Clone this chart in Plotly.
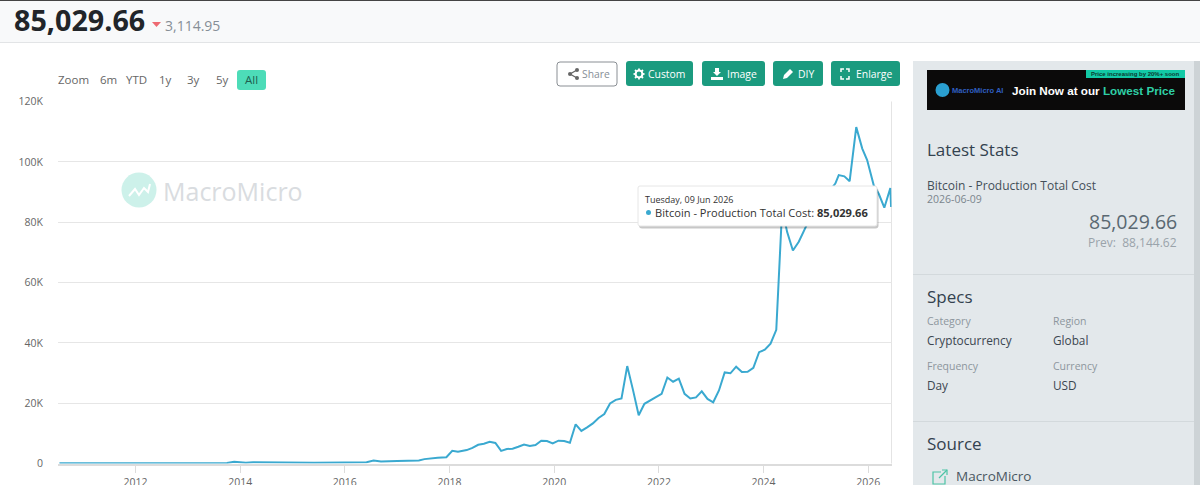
import plotly.graph_objects as go

W, H = 1200, 485

dates = [
    "2010-07-20", "2011-06-01", "2012-06-01", "2013-06-01", "2013-10-01", "2013-11-20", "2014-01-01", "2014-02-10",
    "2014-04-01", "2014-07-01", "2014-08-20", "2014-10-10", "2015-06-01", "2016-01-01", "2016-06-01", "2016-07-20",
    "2016-09-10", "2017-01-01", "2017-03-10", "2017-06-01", "2017-07-10", "2017-08-20", "2017-10-10", "2017-12-10",
    "2018-01-20", "2018-03-01",
    "2018-03-22", "2018-05-01", "2018-06-10", "2018-07-20", "2018-08-29", "2018-10-08", "2018-11-17", "2018-12-27",
    "2019-02-05", "2019-03-17", "2019-04-26", "2019-06-05", "2019-07-15", "2019-08-24", "2019-10-03", "2019-11-12",
    "2019-12-22", "2020-01-31", "2020-03-11", "2020-04-20", "2020-05-30", "2020-07-09", "2020-08-18", "2020-09-27",
    "2020-11-06", "2020-12-16", "2021-01-25", "2021-03-06", "2021-04-15", "2021-05-25", "2021-07-04", "2021-08-13",
    "2021-09-22", "2021-11-01", "2021-12-11", "2022-01-20", "2022-03-01", "2022-04-10", "2022-05-20", "2022-06-29",
    "2022-08-08", "2022-09-17", "2022-10-27", "2022-12-06", "2023-01-15", "2023-02-24", "2023-04-05", "2023-05-15",
    "2023-06-24", "2023-08-03", "2023-09-12", "2023-10-22", "2023-12-01", "2024-01-10", "2024-02-19", "2024-03-30",
    "2024-05-10", "2024-06-14", "2024-07-24", "2024-09-03", "2024-10-08", "2024-11-01", "2024-12-20", "2025-02-24",
    "2025-05-16", "2025-06-09", "2025-07-18", "2025-08-24", "2025-10-09", "2025-11-20", "2025-12-24", "2026-02-08",
    "2026-03-15", "2026-04-23", "2026-06-04", "2026-06-09",
]
cost = [
    50, 60, 70, 90, 150, 550, 400, 250,
    450, 400, 550, 300, 250, 350, 450, 1000,
    650, 800, 1000, 1000, 1450, 1550, 1900, 2100,
    4200, 3900,
    4100, 4450, 5200, 6200, 6550, 7200, 6800, 4200,
    4800, 4900, 5550, 6300, 5800, 6100, 7550, 7450,
    6650, 7550, 7450, 6900, 13000, 10800, 12000, 13300,
    15100, 16400, 19900, 21100, 21550, 32300, 24400, 16000,
    19800, 20800, 22000, 23100, 28500, 27100, 28100, 23100,
    21550, 21900, 23900, 21400, 20300, 24200, 30200, 29900,
    32100, 30300, 30400, 31700, 36900, 37700, 39700, 44300,
    84400, 76700, 70600, 73500, 76700, 79400, 85500, 88000,
    92800, 95600, 95200, 93600, 111500, 104400, 100600, 92200,
    89400, 84800, 91300, 85029.66,
]
y_ticks = [0, 20000, 40000, 60000, 80000, 100000, 120000]
y_labels = ["0", "20K", "40K", "60K", "80K", "100K", "120K"]
range_buttons = ["Zoom", "6m", "YTD", "1y", "3y", "5y", "All"]
range_button_x = [73, 108, 136, 165, 193, 222, 251]

GREEN = "#1b9b7f"
FONT = "Open Sans"


def px(x):
    return x / W


def py(y):
    return 1 - y / H


def rect(x0, y0, x1, y1, fill, line=None, layer="above"):
    return dict(type="rect", xref="paper", yref="paper", x0=px(x0), x1=px(x1), y0=py(y0), y1=py(y1),
                fillcolor=fill, line=dict(color=line or fill, width=1 if line else 0), layer=layer)


def rrect(x0, y0, x1, y1, fill, line=None, r=3, layer="above"):
    # rounded corners for the buttons
    def p(x, y):
        return f"{px(x):.5f},{py(y):.5f}"
    d = (f"M {p(x0 + r, y0)} L {p(x1 - r, y0)} Q {p(x1, y0)} {p(x1, y0 + r)} L {p(x1, y1 - r)} Q {p(x1, y1)} {p(x1 - r, y1)} "
         f"L {p(x0 + r, y1)} Q {p(x0, y1)} {p(x0, y1 - r)} L {p(x0, y0 + r)} Q {p(x0, y0)} {p(x0 + r, y0)} Z")
    return dict(type="path", xref="paper", yref="paper", path=d, fillcolor=fill,
                line=dict(color=line or fill, width=1 if line else 0), layer=layer)


def path(points, fill=None, line=None, width=1, close=False, layer="above"):
    # page pixels to paper coordinates, plotly wants them in the svg path
    d = "M " + " L ".join(f"{px(x):.5f},{py(y):.5f}" for x, y in points) + (" Z" if close else "")
    return dict(type="path", xref="paper", yref="paper", path=d, fillcolor=fill or "rgba(0,0,0,0)",
                line=dict(color=line or "rgba(0,0,0,0)", width=width), layer=layer)


def circle(cx, cy, r, fill=None, line=None, width=1, layer="above"):
    return dict(type="circle", xref="paper", yref="paper", x0=px(cx - r), x1=px(cx + r), y0=py(cy + r), y1=py(cy - r),
                fillcolor=fill or "rgba(0,0,0,0)", line=dict(color=line or "rgba(0,0,0,0)", width=width), layer=layer)


def text(x, y, s, size=12, color="#444", anchor="left", family=FONT):
    return dict(xref="paper", yref="paper", x=px(x), y=py(y), text=s, showarrow=False, xanchor=anchor, yanchor="middle",
                font=dict(size=size, color=color, family=family), borderpad=0, borderwidth=0)


fig = go.Figure()
fig.add_trace(go.Scatter(x=dates, y=cost, mode="lines", line=dict(color="#3aa9d0", width=2), hoverinfo="skip"))

shapes = []
notes = []

# page chrome
shapes.append(rect(0, 0, W, 42, "#f8f9fa", layer="below"))
shapes.append(rect(0, 42, W, 43, "#e2e4e6", layer="below"))
shapes.append(rect(0, 0, W, 1, "#444444", layer="below"))
shapes.append(rect(913, 61, 1194, H, "#e3e8eb", layer="below"))
shapes.append(rect(1194, 61, W, H, "#cdd3d6", layer="below"))
shapes.append(rect(913, 274, 1194, 275, "#d3d9dc", layer="below"))
shapes.append(rect(913, 421, 1194, 422, "#d3d9dc", layer="below"))
shapes.append(rect(891, 101.5, 892, 463.5, "#e4e4e4", layer="below"))

# header
notes.append(text(14, 20, "<b>85,029.66</b>", 28.7, "#212529"))
shapes.append(path([(152, 22), (161, 22), (156.5, 27)], fill="#ee6a72", close=True))
notes.append(text(165, 25, "3,114.95", 14, "#868e96"))

# range selector
shapes.append(rrect(237, 70, 266, 90, "#4ddcb8", layer="below"))
for label, x in zip(range_buttons, range_button_x):
    notes.append(text(x, 80, label, 11.5, "#1f5f50" if label == "All" else "#666", "center"))

# toolbar buttons
shapes.append(rrect(557, 62, 617, 86, "#ffffff", line="#8a8f94"))
notes.append(text(582, 74, "Share", 10.3, "#868e96"))
for x0, x1, label, tx in [(626, 693, "Custom", 648), (702, 765, "Image", 727), (773, 823, "DIY", 798), (831, 900, "Enlarge", 856)]:
    shapes.append(rrect(x0, 61, x1, 86, GREEN))
    notes.append(text(tx, 74, label, 10.4, "#ffffff"))

# button icons
shapes.append(path([(577, 70), (570, 74), (577, 78)], line="#666", width=1.3))
shapes.append(circle(577, 70, 2, fill="#666"))
shapes.append(circle(570, 74, 2, fill="#666"))
shapes.append(circle(577, 78, 2, fill="#666"))
for ax, ay, bx, by in [(639, 68.5, 639, 79.5), (633.5, 74, 644.5, 74), (635, 70, 643, 78), (643, 70, 635, 78)]:
    shapes.append(path([(ax, ay), (bx, by)], line="#fff", width=1.8))
shapes.append(circle(639, 74, 3.4, fill=GREEN, line="#fff", width=2))
shapes.append(path([(715, 68), (719, 68), (719, 72), (721, 72), (717, 76), (713, 72), (715, 72)], fill="#fff", close=True))
shapes.append(rect(711, 77, 723, 80, "#fff"))
shapes.append(path([(783, 79), (784, 75), (790, 69), (793, 72), (787, 78)], fill="#fff", close=True))
for xa, xb, ya, yb in [(841, 844, 69, 72), (849, 846, 69, 72), (841, 844, 79, 76), (849, 846, 79, 76)]:
    shapes.append(path([(xb, ya), (xa, ya), (xa, yb)], line="#fff", width=1.5))

# watermark
shapes.append(circle(139, 190, 17.5, fill="#cdf1ea", layer="below"))
shapes.append(path([(129, 196), (135, 189), (139, 195), (144, 188), (148, 192), (150, 184)], line="#ffffff", width=2, layer="below"))
notes.append(text(163, 191, "MacroMicro", 25, "#d9dce0"))

# tooltip
shapes.append(rrect(639, 188, 878.5, 228.5, "rgba(0,0,0,0.22)"))
shapes.append(rrect(638, 186, 877, 226, "#ffffff", line="#e6e6e6", r=2))
shapes.append(circle(648.5, 212.5, 2.5, fill="#3aa9d0"))
notes.append(text(645, 199, "Tuesday, 09 Jun 2026", 9, "#333"))
notes.append(text(655, 212, "Bitcoin - Production Total Cost: <b>85,029.66</b>", 11.1, "#333"))

# banner
shapes.append(rect(927, 70, 1185, 110, "#0b0a0a"))
shapes.append(rect(1086, 70, 1185, 78, "#12c9a6"))
shapes.append(circle(942.5, 90, 7, fill="#2a9fd0"))
notes.append(text(1135, 74, "<b>Price increasing by 20%+ soon</b>", 6, "#0b3a32", "center", "Liberation Sans"))
notes.append(text(952, 90, "<b>MacroMicro AI</b>", 7.5, "#2f5fc0", family="Liberation Sans"))
notes.append(text(1012, 90, "<b>Join Now at our </b><b style='color:#2fcfa6'>Lowest Price</b>", 11.7, "#ffffff", family="Liberation Sans"))

# side panel
head = "#33424f"
notes.append(text(927, 149, "Latest Stats", 17, head))
notes.append(text(927, 185, "Bitcoin - Production Total Cost", 12, "#444f59"))
notes.append(text(927, 199, "2026-06-09", 10.5, "#7b858d"))
notes.append(text(1177, 222, "85,029.66", 19.5, "#5a6872", "right"))
notes.append(text(1177, 242, "Prev:  88,144.62", 12, "#9aa3aa", "right"))
notes.append(text(927, 296, "Specs", 17, head))
for x, top, val, y in [(927, "Category", "Cryptocurrency", 321), (1053, "Region", "Global", 321),
                       (927, "Frequency", "Day", 366), (1053, "Currency", "USD", 366)]:
    notes.append(text(x, y, top, 10.5, "#8d969d"))
    notes.append(text(x, y + 18.5, val, 11.8, "#3b4650"))
notes.append(text(927, 443, "Source", 17, head))
notes.append(text(956, 476, "MacroMicro", 13.5, "#4a5761"))
shapes.append(path([(941, 472), (933, 472), (933, 484), (945, 484), (945, 476)], line="#4cc3a6", width=1.2))
shapes.append(path([(939, 478), (947, 470)], line="#4cc3a6", width=1.2))
shapes.append(path([(942, 470), (947, 470), (947, 475)], line="#4cc3a6", width=1.2))

fig.update_layout(
    width=W, height=H, margin=dict(l=0, r=0, t=0, b=0, autoexpand=False), autosize=False,
    paper_bgcolor="#ffffff", plot_bgcolor="#ffffff", showlegend=False,
    font=dict(family=FONT, size=11, color="#666"),
    shapes=shapes, annotations=notes,
)
fig.update_xaxes(
    domain=[px(58), px(891.5)], range=["2010-07-10", "2026-06-12"], type="date",
    tick0="2012-01-01", dtick="M24", tickformat="%Y", ticks="outside", ticklen=8, tickcolor="#dcdcdc",
    showgrid=False, showline=True, linecolor="#dcdcdc", linewidth=1.5, tickfont=dict(size=10.5, color="#666"), zeroline=False,
)
fig.update_yaxes(
    domain=[py(463.5), py(101.5)], range=[0, 120000], tickvals=y_ticks, ticktext=y_labels,
    gridcolor="#e6e6e6", gridwidth=1, zeroline=False, showline=False, ticks="outside", ticklen=12, tickcolor="rgba(0,0,0,0)",
    tickfont=dict(size=10.5, color="#666"),
)

# browser default body margin would push the whole page off by 8px
fig.write_html("out.html", config=dict(displayModeBar=False),
               post_script="document.body.style.margin='0';document.body.style.overflow='hidden';")
